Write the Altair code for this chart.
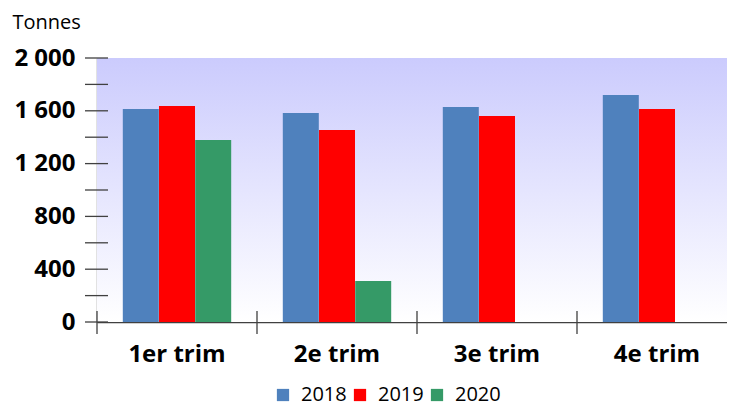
import altair as alt
import pandas as pd

quarters = ["1er trim", "2e trim", "3e trim", "4e trim"]
years = ["2018", "2019", "2020"]
v2018 = [1614, 1583, 1629, 1720]
v2019 = [1636, 1455, 1561, 1614]
v2020 = [1379, 311, None, None]
colors = ["#4f81bd", "#ff0000", "#359a67"]
y_ticks = [0, 200, 400, 600, 800, 1000, 1200, 1400, 1600, 1800, 2000]
y_labels = [0, 400, 800, 1200, 1600, 2000]

rows = []
for yr, vals in zip(years, [v2018, v2019, v2020]):
    for q, v in zip(quarters, vals):
        if v is not None:
            rows.append({"q": q, "year": yr, "v": v})
df = pd.DataFrame(rows)
ticks_df = pd.DataFrame({"t": y_ticks})
qdf = pd.DataFrame({"q": quarters})

W, H = 630, 264
XR = 640
axis_color = "#404040"

xscale = alt.Scale(domain=quarters, range=[0, XR], paddingInner=0, paddingOuter=0)
yscale = alt.Scale(domain=[0, 2000], nice=False)

bg = alt.Chart(qdf).mark_rect(
    color=alt.LinearGradient(
        gradient="linear", x1=0, y1=0, x2=0, y2=1,
        stops=[alt.GradientStop(offset=0, color="#cbcbfd"),
               alt.GradientStop(offset=1, color="#ffffff")]
    )
).encode(x=alt.value(0), x2=alt.value(XR), y=alt.value(0), y2=alt.value(H))

bars = alt.Chart(df).mark_bar(size=36).encode(
    x=alt.X("q:N", scale=xscale, sort=quarters,
            axis=alt.Axis(title=None, labelAngle=0, labelFont="Open Sans",
                          labelFontWeight="bold", labelFontSize=24,
                          labelColor="#000000", labelPadding=20,
                          ticks=False, domainColor=axis_color, domainWidth=1.3)),
    xOffset=alt.XOffset("year:N", scale=alt.Scale(domain=years, paddingInner=0, paddingOuter=0.71)),
    y=alt.Y("v:Q", scale=yscale,
            axis=alt.Axis(values=y_labels, grid=False, ticks=False,
                          labelExpr="replace(format(datum.value, ','), ',', ' ')",
                          labelFont="Open Sans", labelFontWeight="bold",
                          labelFontSize=24, labelColor="#000000",
                          labelPadding=22, domainColor=axis_color, domainWidth=1.3,
                          title="Tonnes", titleAngle=0, titleAlign="left",
                          titleBaseline="alphabetic", titleX=-85, titleY=-30,
                          titleFont="Open Sans", titleFontWeight="normal",
                          titleFontSize=20, titleColor="#000000")),
    color=alt.Color("year:N", scale=alt.Scale(domain=years, range=colors),
                    legend=alt.Legend(title=None, orient="none", direction="horizontal",
                                      legendX=176, legendY=327,
                                      symbolType="square", symbolSize=150,
                                      symbolStrokeWidth=0, labelFont="Open Sans",
                                      labelFontSize=20, labelColor="#000000",
                                      labelOffset=8, columnPadding=3)),
)

yt = alt.Chart(ticks_df).mark_rule(color=axis_color, strokeWidth=1.3).encode(
    y=alt.Y("t:Q", scale=yscale), x=alt.value(-12), x2=alt.value(11)
)

xt = alt.Chart(qdf).mark_rule(color=axis_color, strokeWidth=1.3).encode(
    x=alt.X("q:N", scale=xscale, sort=quarters, bandPosition=0),
    y=alt.value(H - 11), y2=alt.value(H + 12)
)

chart = alt.layer(bg, bars, yt, xt).properties(
    width=W, height=H,
    autosize=alt.AutoSizeParams(type="none"),
    padding={"left": 89, "top": 50, "right": 0, "bottom": 81},
).configure_view(stroke=None)

chart.save("out.html", embed_options={"renderer": "svg", "actions": False})
